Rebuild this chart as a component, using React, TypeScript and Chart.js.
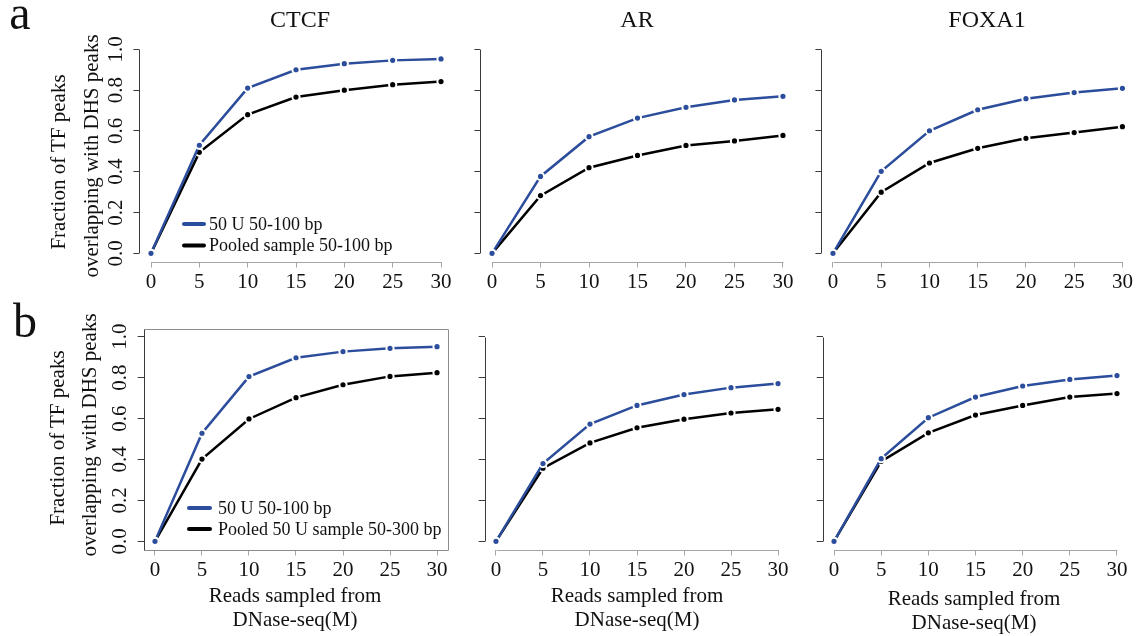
import React, { useEffect, useRef } from "react";
import { Chart, registerables } from "chart.js";

Chart.register(...registerables);

const FONT = "'Liberation Serif', 'Times New Roman', Times, serif";
const W = 1140;
const H = 636;
const BLUE = "#2b4d9b";
const BLACK = "#000000";

// ---- data ----
const readsM = [0, 5, 10, 15, 20, 25, 30];
const xTicks = [0, 5, 10, 15, 20, 25, 30];
const yTicks = [0, 0.2, 0.4, 0.6, 0.8, 1.0];
const yTickLabels = ["0.0", "0.2", "0.4", "0.6", "0.8", "1.0"];
const panelTitles = ["CTCF", "AR", "FOXA1"];
const legendA = ["50 U 50-100 bp", "Pooled sample 50-100 bp"];
const legendB = ["50 U 50-100 bp", "Pooled 50 U sample 50-300 bp"];
const yTitle = ["Fraction of TF peaks", "overlapping with DHS peaks"];
const xTitle = ["Reads sampled from", "DNase-seq(M)"];

const aCTCF50U = [0, 0.53, 0.81, 0.9, 0.93, 0.946, 0.953];
const aCTCFPooled = [0, 0.495, 0.68, 0.766, 0.8, 0.827, 0.842];
const aAR50U = [0, 0.377, 0.572, 0.663, 0.716, 0.752, 0.77];
const aARPooled = [0, 0.283, 0.42, 0.48, 0.529, 0.551, 0.578];
const aFOXA150U = [0, 0.402, 0.601, 0.704, 0.758, 0.788, 0.809];
const aFOXA1Pooled = [0, 0.3, 0.443, 0.515, 0.564, 0.592, 0.621];

const bCTCF50U = [0, 0.528, 0.805, 0.897, 0.927, 0.943, 0.951];
const bCTCFPooled = [0, 0.402, 0.598, 0.702, 0.765, 0.806, 0.824];
const bAR50U = [0, 0.38, 0.573, 0.664, 0.717, 0.751, 0.771];
const bARPooled = [0, 0.357, 0.481, 0.555, 0.597, 0.627, 0.645];
const bFOXA150U = [0, 0.404, 0.604, 0.705, 0.759, 0.791, 0.81];
const bFOXA1Pooled = [0, 0.391, 0.53, 0.617, 0.664, 0.705, 0.722];

type Area = { l: number; r: number; t: number; b: number };
type Legend = { x1: number; x2: number; tx: number; y1: number; y2: number };

type PanelProps = {
  area: Area;
  blue: number[];
  black: number[];
  labels: string[];
  yLabels: boolean;
  box: boolean;
  legend: Legend | null;
};

const X_SCALE_H = 40;
const TICK_LEN = 6;

function Panel({ area, blue, black, labels, yLabels, box, legend }: PanelProps) {
  const ref = useRef<HTMLCanvasElement | null>(null);
  useEffect(() => {
    const canvas = ref.current;
    if (!canvas) return;
    const decor = {
      id: "rdecor",
      beforeDatasetsDraw(chart: any) {
        const ctx = chart.ctx;
        const ca = chart.chartArea;
        const xs = chart.scales.x;
        const ys = chart.scales.y;
        ctx.save();
        ctx.lineWidth = 1;
        if (box) {
          const l = Math.round(ca.left) + 0.5;
          const r = Math.round(ca.right) + 0.5;
          const t = Math.round(ca.top) + 0.5;
          const b = Math.round(ca.bottom) + 0.5;
          ctx.strokeStyle = "#8c8c8c";
          ctx.beginPath();
          ctx.moveTo(l, t);
          ctx.lineTo(r, t);
          ctx.lineTo(r, b);
          ctx.lineTo(l, b);
          ctx.stroke();
          ctx.strokeStyle = "#3a3a3a";
          ctx.beginPath();
          ctx.moveTo(l, t);
          ctx.lineTo(l, b);
          ctx.stroke();
        } else {
          const lx = Math.round(ca.left) + 0.5;
          ctx.strokeStyle = "#3a3a3a";
          ctx.beginPath();
          ctx.moveTo(lx, Math.round(ys.getPixelForValue(yTicks[0])) + 0.5);
          ctx.lineTo(lx, Math.round(ys.getPixelForValue(yTicks[yTicks.length - 1])) + 0.5);
          ctx.stroke();
          const by = Math.round(ca.bottom) + 0.5;
          ctx.strokeStyle = "#a6a6a6";
          ctx.beginPath();
          ctx.moveTo(Math.round(xs.getPixelForValue(xTicks[0])) + 0.5, by);
          ctx.lineTo(Math.round(xs.getPixelForValue(xTicks[xTicks.length - 1])) + 0.5, by);
          ctx.stroke();
        }
        ctx.restore();
      },
      afterDraw(chart: any) {
        const ctx = chart.ctx;
        const ca = chart.chartArea;
        const ys = chart.scales.y;
        ctx.save();
        if (yLabels) {
          ctx.fillStyle = "#111";
          ctx.font = `21px ${FONT}`;
          ctx.textAlign = "center";
          ctx.textBaseline = "middle";
          yTicks.forEach((v, i) => {
            const py = ys.getPixelForValue(v);
            ctx.save();
            ctx.translate(ca.left - 23, py);
            ctx.rotate(-Math.PI / 2);
            ctx.fillText(yTickLabels[i], 0, 0);
            ctx.restore();
          });
        }
        if (legend) {
          const ds = chart.data.datasets;
          const ys2 = [legend.y1, legend.y2];
          ds.forEach((d: any, i: number) => {
            ctx.strokeStyle = d.borderColor;
            ctx.lineWidth = 4;
            ctx.lineCap = "round";
            ctx.beginPath();
            ctx.moveTo(legend.x1, ys2[i]);
            ctx.lineTo(legend.x2, ys2[i]);
            ctx.stroke();
            ctx.fillStyle = "#111";
            ctx.font = `18px ${FONT}`;
            ctx.textAlign = "left";
            ctx.textBaseline = "middle";
            ctx.fillText(d.label, legend.tx, ys2[i] + 1);
          });
        }
        ctx.restore();
      },
    };

    const mk = (vals: number[], color: string, label: string) => ({
      label,
      data: readsM.map((x, i) => ({ x, y: vals[i] })),
      borderColor: color,
      backgroundColor: color,
      borderWidth: 2.5,
      pointRadius: 3.6,
      pointBorderWidth: 2,
      pointBorderColor: "#ffffff",
      pointBackgroundColor: color,
      tension: 0,
      fill: false,
    });

    const chart = new Chart(canvas, {
      type: "line",
      data: {
        datasets: [mk(blue, BLUE, labels[0]), mk(black, BLACK, labels[1])],
      },
      options: {
        responsive: false,
        animation: false,
        devicePixelRatio: 1,
        events: [],
        layout: {
          padding: {
            left: area.l - TICK_LEN,
            right: W - area.r,
            top: area.t,
            bottom: H - area.b - X_SCALE_H,
          },
        },
        plugins: {
          legend: { display: false },
          tooltip: { enabled: false },
          title: { display: false },
        },
        scales: {
          x: {
            type: "linear",
            min: -1.2,
            max: 31.2,
            afterBuildTicks: (s: any) => {
              s.ticks = xTicks.map((v) => ({ value: v }));
            },
            afterFit: (s: any) => {
              s.height = X_SCALE_H;
            },
            border: { display: false },
            grid: {
              display: true,
              drawOnChartArea: false,
              drawTicks: true,
              tickLength: TICK_LEN,
              color: "#a6a6a6",
              lineWidth: 1,
            },
            ticks: {
              autoSkip: false,
              maxRotation: 0,
              minRotation: 0,
              padding: 2,
              color: "#111",
              font: { family: FONT, size: 21 },
              callback: (v: any) => String(v),
            },
          },
          y: {
            type: "linear",
            min: -0.04,
            max: 1.04,
            afterBuildTicks: (s: any) => {
              s.ticks = yTicks.map((v) => ({ value: v }));
            },
            afterFit: (s: any) => {
              s.width = TICK_LEN;
            },
            border: { display: false },
            grid: {
              display: true,
              drawOnChartArea: false,
              drawTicks: true,
              tickLength: TICK_LEN,
              color: "#3a3a3a",
              lineWidth: 1,
            },
            ticks: { display: false },
          },
        },
      },
      plugins: [decor],
    } as any);
    return () => chart.destroy();
  }, []);
  return (
    <canvas
      ref={ref}
      width={W}
      height={H}
      style={{ position: "absolute", left: 0, top: 0, width: W, height: H }}
    />
  );
}

function Txt({
  text,
  cx,
  cy,
  size,
  rotate = 0,
}: {
  text: string;
  cx: number;
  cy: number;
  size: number;
  rotate?: number;
}) {
  return (
    <div
      style={{
        position: "absolute",
        left: cx,
        top: cy,
        transform: `translate(-50%, -50%) rotate(${rotate}deg)`,
        fontFamily: FONT,
        fontSize: size,
        lineHeight: `${size}px`,
        whiteSpace: "nowrap",
        color: "#111",
      }}
    >
      {text}
    </div>
  );
}

export default function App() {
  const rowA = { t: 41.2, b: 261.5 };
  const rowB = { t: 328.5, b: 549.5 };
  return (
    <div
      style={{
        position: "absolute",
        left: 0,
        top: 0,
        width: W,
        height: H,
        background: "#fff",
        overflow: "hidden",
      }}
    >
      <Panel
        area={{ l: 139.4, r: 452.6, ...rowA }}
        blue={aCTCF50U}
        black={aCTCFPooled}
        labels={legendA}
        yLabels={true}
        box={false}
        legend={{ x1: 184, x2: 204, tx: 209, y1: 224, y2: 245.5 }}
      />
      <Panel
        area={{ l: 480.4, r: 794.6, ...rowA }}
        blue={aAR50U}
        black={aARPooled}
        labels={legendA}
        yLabels={false}
        box={false}
        legend={null}
      />
      <Panel
        area={{ l: 821.4, r: 1135.6, ...rowA }}
        blue={aFOXA150U}
        black={aFOXA1Pooled}
        labels={legendA}
        yLabels={false}
        box={false}
        legend={null}
      />
      <Panel
        area={{ l: 143.7, r: 448.3, ...rowB }}
        blue={bCTCF50U}
        black={bCTCFPooled}
        labels={legendB}
        yLabels={true}
        box={true}
        legend={{ x1: 189, x2: 210, tx: 218, y1: 508, y2: 529 }}
      />
      <Panel
        area={{ l: 484.7, r: 789.3, ...rowB }}
        blue={bAR50U}
        black={bARPooled}
        labels={legendB}
        yLabels={false}
        box={false}
        legend={null}
      />
      <Panel
        area={{ l: 822.7, r: 1128.3, ...rowB }}
        blue={bFOXA150U}
        black={bFOXA1Pooled}
        labels={legendB}
        yLabels={false}
        box={false}
        legend={null}
      />

      <Txt text="a" cx={20} cy={13} size={48} />
      <Txt text="b" cx={25} cy={321} size={48} />

      <Txt text={panelTitles[0]} cx={300} cy={19} size={24} />
      <Txt text={panelTitles[1]} cx={637} cy={19} size={24} />
      <Txt text={panelTitles[2]} cx={987} cy={19} size={24} />

      <Txt text={yTitle[0]} cx={58} cy={162} size={21} rotate={-90} />
      <Txt text={yTitle[1]} cx={91} cy={156} size={21} rotate={-90} />
      <Txt text={yTitle[0]} cx={57} cy={438} size={21} rotate={-90} />
      <Txt text={yTitle[1]} cx={89} cy={435} size={21} rotate={-90} />

      <Txt text={xTitle[0]} cx={295} cy={595} size={21} />
      <Txt text={xTitle[1]} cx={295} cy={619} size={21} />
      <Txt text={xTitle[0]} cx={637} cy={595} size={21} />
      <Txt text={xTitle[1]} cx={637} cy={619} size={21} />
      <Txt text={xTitle[0]} cx={974} cy={598} size={21} />
      <Txt text={xTitle[1]} cx={974} cy={622} size={21} />
    </div>
  );
}
